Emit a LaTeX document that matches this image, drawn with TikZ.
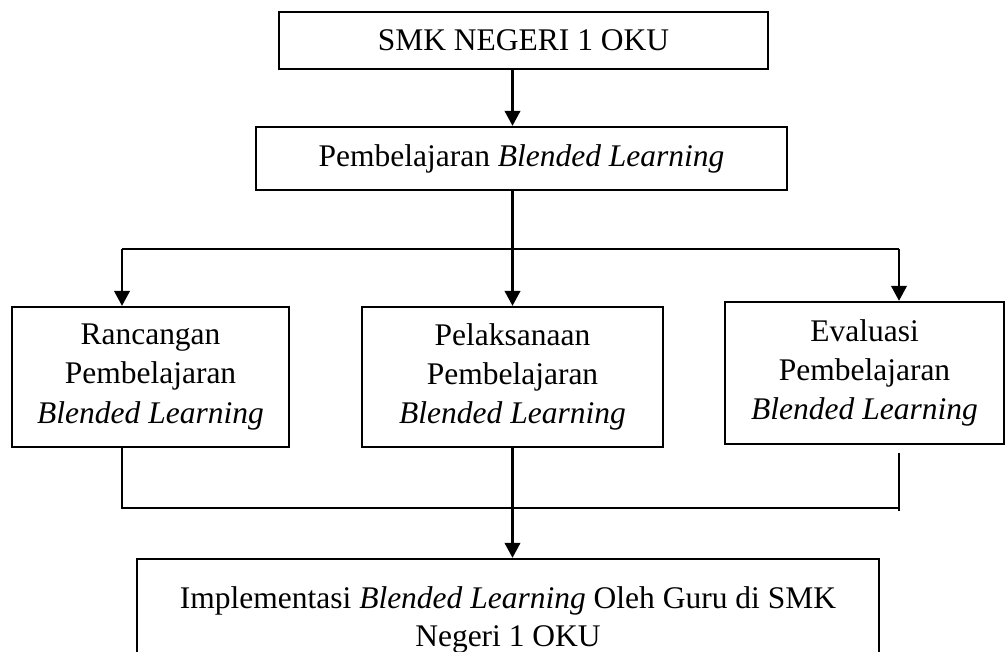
\documentclass[tikz,border=0pt]{standalone}
\usepackage{fontspec}
\setmainfont{Liberation Serif}
\usetikzlibrary{arrows.meta,positioning}

\begin{document}
\begin{tikzpicture}[
    x=0.381pt, y=-0.381pt,
    line width=0.9pt,
    flow box/.style={
        draw=black,
        line width=0.9pt,
        inner sep=0pt,
        font=\fontsize{12}{15}\selectfont,
        align=center
    },
    arrow/.style={-{Triangle[length=5.7pt,width=5.9pt]}, line width=0.9pt}
]
\useasboundingbox (0,0) rectangle (1006,652);

% Top boxes
\node[flow box, minimum width=186.3pt, minimum height=21.7pt] (smk) at (523.5,40.5) {SMK NEGERI 1 OKU};
\node[flow box, minimum width=202.3pt, minimum height=24pt] (blended) at (521.5,158.5) {Pembelajaran \textit{Blended Learning}};

% Middle boxes
\node[flow box, minimum width=105.5pt, minimum height=53.3pt] (rancangan) at (150.5,377) {
    Rancangan\\
    Pembelajaran\\
    \textit{Blended Learning}
};
\node[flow box, minimum width=114.7pt, minimum height=53.3pt] (pelaksanaan) at (512.5,377) {
    Pelaksanaan\\
    Pembelajaran\\
    \textit{Blended Learning}
};
\node[flow box, minimum width=106.3pt, minimum height=54.1pt] (evaluasi) at (864.5,373) {
    Evaluasi\\
    Pembelajaran\\
    \textit{Blended Learning}
};

% Bottom box (cut by the page edge)
\node[flow box, minimum width=282.7pt, minimum height=46.5pt] (implementasi) at (508,620) {
    Implementasi \textit{Blended Learning} Oleh Guru di SMK\\[-0.5pt]
    Negeri 1 OKU
};

% Branch and join points
\coordinate (branch-l) at (122,249);
\coordinate (branch-r) at (899,249);
\coordinate (join-l) at (122,508);
\coordinate (join-r) at (899,508);

% Arrows
\draw[arrow] (smk.south -| pelaksanaan) -- (blended.north -| pelaksanaan);
\draw (blended.south -| pelaksanaan) -- (pelaksanaan |- branch-l);
\draw (branch-l) -- (branch-r);
\draw[arrow] (branch-l) -- (branch-l |- rancangan.north);
\draw[arrow] (pelaksanaan |- branch-l) -- (pelaksanaan.north);
\draw[arrow] (branch-r) -- (branch-r |- evaluasi.north);
\draw (join-l |- rancangan.south) -- (join-l) -- (join-r);
\draw ([yshift=-3pt]join-r |- evaluasi.south) -- ([yshift=-1.1pt]join-r);
\draw[arrow] (pelaksanaan.south) -- (implementasi.north -| pelaksanaan);

\end{tikzpicture}
\end{document}
